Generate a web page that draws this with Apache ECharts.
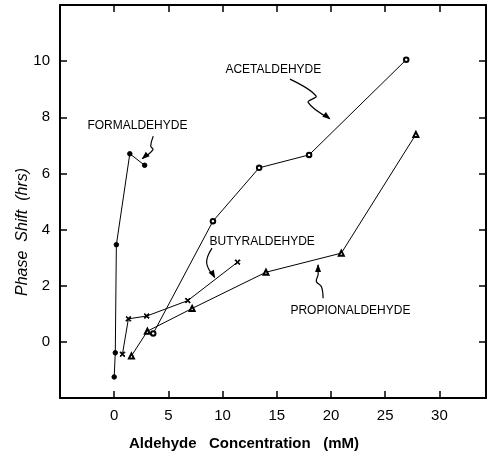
<!DOCTYPE html>
<html><head><meta charset="utf-8">
<script src="https://cdn.jsdelivr.net/npm/echarts@6/dist/echarts.min.js"></script>
<style>html,body{margin:0;padding:0;background:#fff}#c{width:489px;height:455px}</style>
</head><body><div id="c"></div>
<script>
// ---- data (x = aldehyde concentration mM, y = phase shift hrs) ----
const formX = [0, 0.1, 0.2, 1.44, 2.81];
const formY = [-1.25, -0.39, 3.46, 6.70, 6.29];
const acetX = [3.6, 9.11, 13.37, 17.98, 26.94];
const acetY = [0.30, 4.30, 6.20, 6.66, 10.05];
const butX = [0.76, 1.31, 3.0, 6.79, 11.38];
const butY = [-0.44, 0.82, 0.92, 1.47, 2.84];
const propX = [1.59, 3.06, 7.19, 14.0, 20.95, 27.83];
const propY = [-0.50, 0.38, 1.19, 2.48, 3.16, 7.39];
const xTicks = [0, 5, 10, 15, 20, 25, 30];
const yTicks = [0, 2, 4, 6, 8, 10];
// annotation labels (data coords) and squiggle arrows (data coords)
const labelNames = ['FORMALDEHYDE', 'ACETALDEHYDE', 'BUTYRALDEHYDE', 'PROPIONALDEHYDE'];
const labelPos = [[2.14, 7.69], [14.68, 9.71], [13.65, 3.58], [21.79, 1.11]];
const arrowPaths = [
  [[3.6, 7.33], [3.37, 6.97], [3.58, 6.85], [2.6, 6.53]],
  [[16.21, 9.36], [18.62, 8.76], [17.89, 8.53], [19.88, 7.95]],
  [[9.02, 3.34], [8.53, 2.81], [9.27, 2.30]],
  [[19.27, 1.55], [19.11, 1.97], [18.65, 2.15], [18.81, 2.39], [18.81, 2.74]]
];

const zip = (a, b) => a.map((v, i) => [v, b[i]]);
const FONT = '"Liberation Sans", Arial, sans-serif';
const xSym = 'path://M1.4,0 L5,3.6 L8.6,0 L10,1.4 L6.4,5 L10,8.6 L8.6,10 L5,6.4 L1.4,10 L0,8.6 L3.6,5 L0,1.4 Z';

const chart = echarts.init(document.getElementById('c'), null, {renderer: 'canvas'});
const axisLine = {show: true, onZero: false, lineStyle: {color: '#000', width: 2}};
const tick = {show: true, inside: true, length: 7, lineStyle: {color: '#000', width: 1.5}};
const lbl = {color: '#000', fontSize: 15, fontFamily: FONT, margin: 10};

function lineSeries(xs, ys, symbol, size) {
  return {
    type: 'line', data: zip(xs, ys), symbol: symbol, symbolSize: size,
    lineStyle: {color: '#000', width: 1}, itemStyle: {color: '#000', borderColor: '#000', borderWidth: 1},
    animation: false, z: 3
  };
}

chart.setOption({
  animation: false,
  backgroundColor: '#fff',
  grid: {left: 60, right: 1, top: 5, bottom: 57, containLabel: false},
  xAxis: [
    {type: 'value', position: 'bottom', min: -5, max: 34.3, interval: 5,
     axisLine: axisLine, axisTick: tick, splitLine: {show: false},
     axisLabel: Object.assign({}, lbl, {formatter: v => xTicks.includes(v) ? String(v) : ''})},
    {type: 'value', position: 'top', min: -5, max: 34.3, interval: 5,
     axisLine: axisLine, axisTick: tick, splitLine: {show: false}, axisLabel: {show: false}}
  ],
  yAxis: [
    {type: 'value', position: 'left', min: -2, max: 12, interval: 2,
     axisLine: axisLine, axisTick: tick, splitLine: {show: false},
     axisLabel: Object.assign({}, lbl, {formatter: v => yTicks.includes(v) ? String(v) : ''})},
    {type: 'value', position: 'right', min: -2, max: 12, interval: 2,
     axisLine: axisLine, axisTick: tick, splitLine: {show: false}, axisLabel: {show: false}}
  ],
  series: [
    lineSeries(formX, formY, 'circle', 4.5),
    lineSeries(acetX, acetY, 'emptyCircle', 4.5),
    lineSeries(butX, butY, xSym, 5),
    lineSeries(propX, propY, 'emptyTriangle', 5)
  ]
});

const px = p => chart.convertToPixel({xAxisIndex: 0, yAxisIndex: 0}, p);
const g = [];
labelNames.forEach((t, i) => {
  const p = px(labelPos[i]);
  g.push({type: 'text', x: p[0], y: p[1], style: {text: t, fill: '#000', font: '12px ' + FONT, align: 'center', verticalAlign: 'middle'}});
});
arrowPaths.forEach(path => {
  const pts = path.map(px);
  g.push({type: 'polyline', shape: {points: pts, smooth: 0.4}, style: {stroke: '#000', lineWidth: 1.2, fill: null}});
  const a = pts[pts.length - 1], b = pts[pts.length - 2];
  const dx = a[0] - b[0], dy = a[1] - b[1], L = Math.hypot(dx, dy);
  const ux = dx / L, uy = dy / L, len = 7, hw = 3;
  const bx = a[0] - ux * len, by = a[1] - uy * len;
  g.push({type: 'polygon', shape: {points: [[a[0] + ux, a[1] + uy], [bx - uy * hw, by + ux * hw], [bx + uy * hw, by - ux * hw]]}, style: {fill: '#000'}});
});
g.push({type: 'text', x: 244, y: 444, style: {text: 'Aldehyde   Concentration   (mM)', fill: '#000', font: 'bold 15px ' + FONT, align: 'center', verticalAlign: 'middle'}});
g.push({type: 'text', x: 23, y: 232, rotation: Math.PI / 2, style: {text: 'Phase  Shift  (hrs)', fill: '#000', font: 'italic 16px ' + FONT, align: 'center', verticalAlign: 'middle'}});
chart.setOption({graphic: g});
</script></body></html>
